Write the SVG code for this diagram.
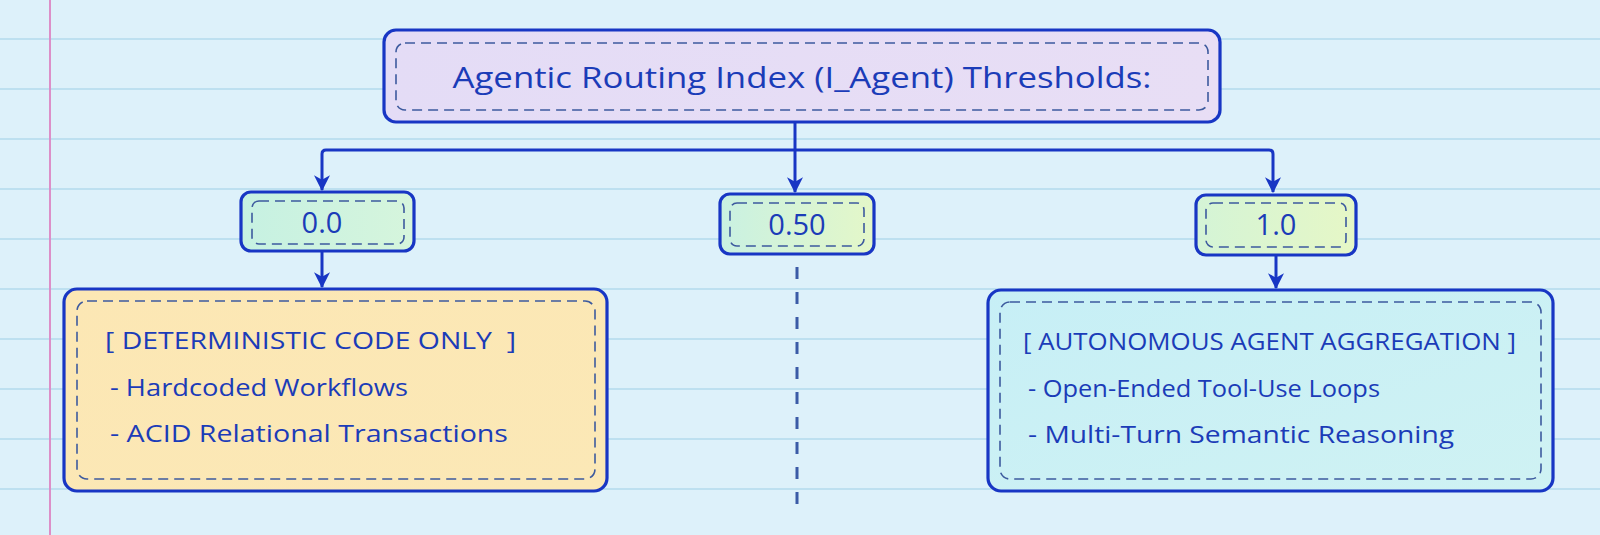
<svg xmlns="http://www.w3.org/2000/svg" width="1600" height="535" viewBox="0 0 1600 535">
<defs>
<style>
.bg{fill:#ddf1fa}
.rule{stroke:#b2daec;stroke-width:1.3}
.outer{stroke:#1836c4;stroke-width:3.2}
.inner{fill:none;stroke:#3d5a9e;stroke-width:1.6;stroke-dasharray:10 6}
.conn{fill:none;stroke:#1836c4;stroke-width:3}
.t{font-family:"Open Sans","DejaVu Sans",sans-serif;font-weight:500;fill:#1b3cb8;white-space:pre}
</style>
<marker id="arr" viewBox="0 0 14 14" refX="13" refY="7" markerWidth="16" markerHeight="16" markerUnits="userSpaceOnUse" orient="auto">
<path d="M0,0 L14,7 L0,14 L4,7 z" fill="#1836c4"/>
</marker>
<linearGradient id="gTop" x1="0" y1="0" x2="1" y2="0"><stop offset="0" stop-color="#e4dcf6"/><stop offset="1" stop-color="#e8def5"/></linearGradient>
<linearGradient id="g00" x1="0" y1="0" x2="1" y2="0"><stop offset="0" stop-color="#c6f1e2"/><stop offset="1" stop-color="#d6f5dc"/></linearGradient>
<linearGradient id="g05" x1="0" y1="0" x2="1" y2="0"><stop offset="0" stop-color="#c9f1e2"/><stop offset="1" stop-color="#e4f7c8"/></linearGradient>
<linearGradient id="g10" x1="0" y1="0" x2="1" y2="0"><stop offset="0" stop-color="#d4f4d6"/><stop offset="1" stop-color="#e6f7c6"/></linearGradient>
<linearGradient id="gL" x1="0" y1="0" x2="1" y2="1"><stop offset="0" stop-color="#fce7b4"/><stop offset="1" stop-color="#fbe8b6"/></linearGradient>
<linearGradient id="gR" x1="0" y1="0" x2="1" y2="1"><stop offset="0" stop-color="#c7eff6"/><stop offset="1" stop-color="#cff2f3"/></linearGradient>
</defs>
<rect class="bg" x="0" y="0" width="1600" height="535"/>
<g id="paper">
<line class="rule" x1="0" y1="39" x2="1600" y2="39"/>
<line class="rule" x1="0" y1="89" x2="1600" y2="89"/>
<line class="rule" x1="0" y1="139" x2="1600" y2="139"/>
<line class="rule" x1="0" y1="189" x2="1600" y2="189"/>
<line class="rule" x1="0" y1="239" x2="1600" y2="239"/>
<line class="rule" x1="0" y1="289" x2="1600" y2="289"/>
<line class="rule" x1="0" y1="339" x2="1600" y2="339"/>
<line class="rule" x1="0" y1="389" x2="1600" y2="389"/>
<line class="rule" x1="0" y1="439" x2="1600" y2="439"/>
<line class="rule" x1="0" y1="489" x2="1600" y2="489"/>
<line x1="50" y1="0" x2="50" y2="535" stroke="#dc8fc8" stroke-width="2"/>
</g>
<g id="connectors">
<path class="conn" d="M795,122 V150"/>
<path class="conn" d="M326,150 H1269"/>
<path class="conn" d="M326,150 Q322,150 322,154 V190" marker-end="url(#arr)"/>
<path class="conn" d="M795,150 V192" marker-end="url(#arr)"/>
<path class="conn" d="M1269,150 Q1273,150 1273,154 V192" marker-end="url(#arr)"/>
<path class="conn" d="M322,251 V287" marker-end="url(#arr)"/>
<path class="conn" d="M1276,255 V288" marker-end="url(#arr)"/>
<path d="M797,267 V510" fill="none" stroke="#3b5ba6" stroke-width="3" stroke-dasharray="12 13"/>
</g>
<g id="node-title">
<rect class="outer" x="384" y="30" width="836" height="92" rx="12" fill="url(#gTop)"/>
<rect class="inner" x="396" y="43" width="812" height="67" rx="9"/>
<text class="t" x="802" y="88" font-size="30" text-anchor="middle" textLength="699" lengthAdjust="spacingAndGlyphs">Agentic Routing Index (I_Agent) Thresholds:</text>
</g>
<g id="node-0-0">
<rect class="outer" x="241" y="192" width="173" height="59" rx="10" fill="url(#g00)"/>
<rect class="inner" x="252" y="201" width="152" height="43" rx="7"/>
<text class="t" x="322" y="233" font-size="29" text-anchor="middle">0.0</text>
</g>
<g id="node-0-50">
<rect class="outer" x="720" y="194" width="154" height="60" rx="10" fill="url(#g05)"/>
<rect class="inner" x="730" y="203" width="134" height="43" rx="7"/>
<text class="t" x="797" y="235" font-size="29" text-anchor="middle">0.50</text>
</g>
<g id="node-1-0">
<rect class="outer" x="1196" y="195" width="160" height="60" rx="10" fill="url(#g10)"/>
<rect class="inner" x="1206" y="203" width="140" height="44" rx="7"/>
<text class="t" x="1276" y="235" font-size="29" text-anchor="middle">1.0</text>
</g>
<g id="node-deterministic">
<rect class="outer" x="64" y="289" width="543" height="202" rx="13" fill="url(#gL)"/>
<rect class="inner" x="77" y="301" width="518" height="178" rx="10"/>
<text class="t" x="105" y="349" font-size="24" textLength="411" lengthAdjust="spacingAndGlyphs">[ DETERMINISTIC CODE ONLY  ]</text>
<text class="t" x="110" y="396" font-size="24" textLength="298" lengthAdjust="spacingAndGlyphs">- Hardcoded Workflows</text>
<text class="t" x="110" y="442" font-size="24" textLength="398" lengthAdjust="spacingAndGlyphs">- ACID Relational Transactions</text>
</g>
<g id="node-autonomous">
<rect class="outer" x="988" y="290" width="565" height="201" rx="13" fill="url(#gR)"/>
<rect class="inner" x="1000" y="302" width="541" height="177" rx="10"/>
<text class="t" x="1023" y="350" font-size="24" textLength="493" lengthAdjust="spacingAndGlyphs">[ AUTONOMOUS AGENT AGGREGATION ]</text>
<text class="t" x="1028" y="397" font-size="24" textLength="352" lengthAdjust="spacingAndGlyphs">- Open-Ended Tool-Use Loops</text>
<text class="t" x="1028" y="443" font-size="24" textLength="426" lengthAdjust="spacingAndGlyphs">- Multi-Turn Semantic Reasoning</text>
</g>
</svg>
